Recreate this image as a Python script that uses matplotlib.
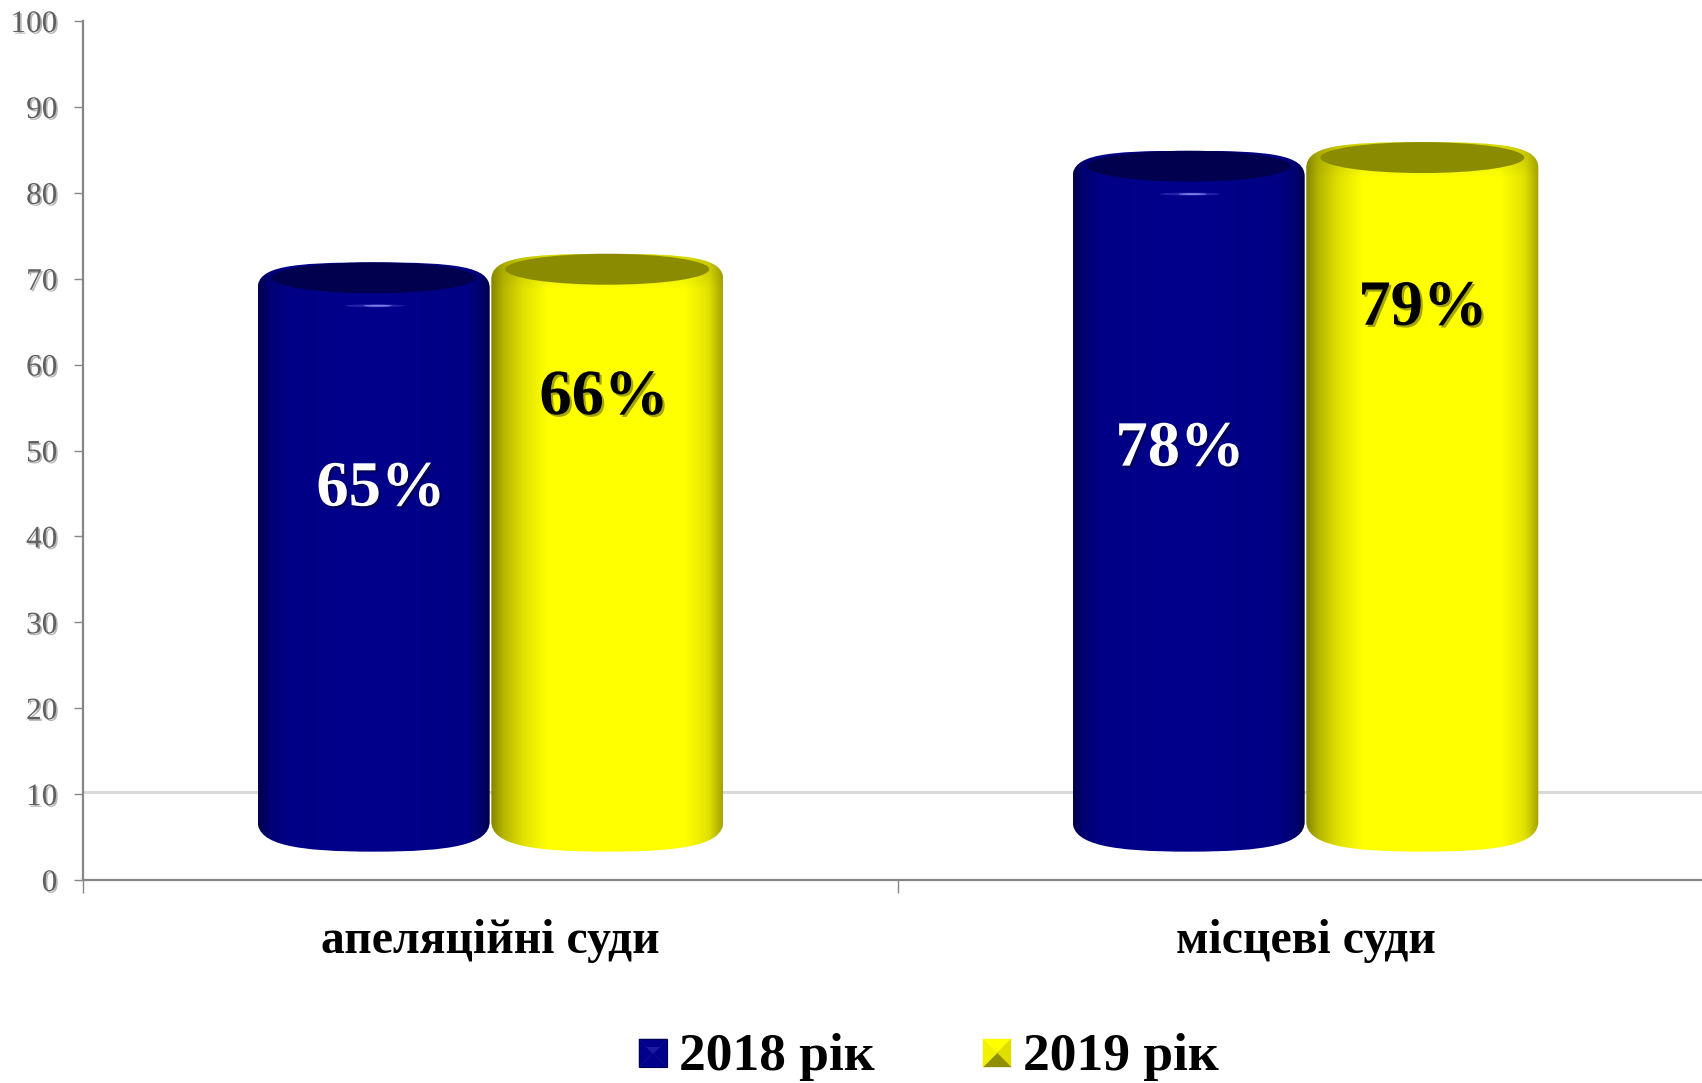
import numpy as np
import matplotlib
matplotlib.use('Agg')
from matplotlib import pyplot as plt
from matplotlib.colors import LinearSegmentedColormap
from matplotlib.path import Path
from matplotlib.patches import PathPatch, Ellipse, Rectangle, Polygon
import matplotlib.patheffects as pe

categorias = ['апеляційні суди', 'місцеві суди']
anos = ['2018 рік', '2019 рік']
valores_2018 = [65, 78]
valores_2019 = [66, 79]
yticks = list(range(0, 101, 10))

plt.rcParams['font.family'] = ['Liberation Serif', 'DejaVu Serif']

W, H = 1702, 1083
fig = plt.figure(figsize=(W / 100, H / 100), dpi=100)
ax = fig.add_axes([83 / W, (H - 880) / H, (W - 83) / W, 859 / H])
ax.set_xlim(0, (W - 83) / 815)
ax.set_ylim(0, 100)

cmap_azul = LinearSegmentedColormap.from_list('azul', [
    (0, '#00004c'), (0.04, '#000070'), (0.12, '#000086'), (0.5, '#00008c'),
    (0.9, '#000084'), (0.97, '#000068'), (1, '#00003c')])
cmap_amarelo = LinearSegmentedColormap.from_list('amarelo', [
    (0, '#858500'), (0.05, '#b4b400'), (0.14, '#e2e200'), (0.24, '#ffff00'),
    (0.84, '#ffff00'), (0.94, '#e2e200'), (1, '#a4a400')])
cmap_ombro = LinearSegmentedColormap.from_list('ombro', [(0.55, 0.55, 0, 0), (0.55, 0.55, 0, 0.38)])

largura = 232 / 815
gradiente = np.linspace(0, 1, 256).reshape(1, -1)
gradiente_v = np.linspace(1, 0, 64).reshape(-1, 1)


def cilindro(xc, valor, cmap, cor_topo, brilho):
    x0, x1 = xc - largura / 2, xc + largura / 2
    topo = valor + 3.9
    cupula = topo + 3.0
    base = 6.8
    fundo = 3.3
    k = largura * 0.36
    k2 = largura * 0.33
    verts = [
        (x0, base), (x0, topo),
        (x0, topo + 2.5), (xc - k, cupula), (xc, cupula),
        (xc + k, cupula), (x1, topo + 2.5), (x1, topo),
        (x1, base),
        (x1, base - 2.7), (xc + k2, fundo), (xc, fundo),
        (xc - k2, fundo), (x0, base - 2.7), (x0, base),
        (x0, base),
    ]
    codes = [Path.MOVETO, Path.LINETO, Path.CURVE4, Path.CURVE4, Path.CURVE4,
             Path.CURVE4, Path.CURVE4, Path.CURVE4, Path.LINETO,
             Path.CURVE4, Path.CURVE4, Path.CURVE4,
             Path.CURVE4, Path.CURVE4, Path.CURVE4, Path.CLOSEPOLY]
    contorno = PathPatch(Path(verts, codes), transform=ax.transData,
                         facecolor='none', edgecolor='none')
    ax.add_patch(contorno)
    img = ax.imshow(gradiente, cmap=cmap, extent=[x0, x1, fundo, cupula],
                    aspect='auto', zorder=3, vmin=0, vmax=1)
    img.set_clip_path(contorno)
    if not brilho:
        # faixa mais escura no ombro do cilindro amarelo
        img2 = ax.imshow(gradiente_v, cmap=cmap_ombro, extent=[x0, x1, topo - 1.2, cupula],
                         aspect='auto', zorder=3.5, vmin=0, vmax=1)
        img2.set_clip_path(contorno)
    ax.add_patch(Ellipse((xc, valor + 5.1), 2 * 102 / 815, 3.6,
                         facecolor=cor_topo, edgecolor='none', zorder=4))
    if brilho:
        ax.add_patch(Ellipse((xc + 1 / 815, valor + 1.85), 60 / 815, 0.34,
                             facecolor='#2323a8', edgecolor='none', zorder=4))
        ax.add_patch(Ellipse((xc + 4 / 815, valor + 1.85), 28 / 815, 0.22,
                             facecolor='#7d7de8', edgecolor='none', zorder=4))


for i in range(len(categorias)):
    cilindro(i + 0.5 - largura / 2 - 0.001, valores_2018[i], cmap_azul, '#00004e', True)
    cilindro(i + 0.5 + largura / 2 + 0.001, valores_2019[i], cmap_amarelo, '#8b8b00', False)

ax.set_xlim(0, (W - 83) / 815)
ax.set_ylim(0, 100)

# so aparece a linha do 10 na figura original
ax.axhline(10.2, color='#d9d9d9', lw=2.2, zorder=1)

for lado in ['top', 'right']:
    ax.spines[lado].set_visible(False)
ax.spines['left'].set_color('#868686')
ax.spines['left'].set_linewidth(1.6)
ax.spines['bottom'].set_color('#868686')
ax.spines['bottom'].set_linewidth(1.6)

sombra_tick = [pe.withSimplePatchShadow(offset=(1.2, -1.2), shadow_rgbFace='#888888', alpha=0.6)]
ax.set_yticks(yticks)
ax.tick_params(axis='y', length=6.5, width=1, color='#868686', pad=12)
for t in ax.get_yticklabels():
    t.set_fontsize(22.5)
    t.set_color('#606060')
    t.set_path_effects(sombra_tick)

ax.set_xticks([0, 1])
ax.set_xticklabels([])
ax.tick_params(axis='x', length=9.5, width=1, color='#868686')
ax.set_xticks([0.5, 1.5], minor=True)
ax.set_xticklabels(categorias, minor=True, fontsize=34.4, fontweight='bold', color='black')
ax.tick_params(axis='x', which='minor', length=0, pad=28)

rotulos = ['65%', '66%', '78%', '79%']
rotulo_x = [381, 604, 1180, 1423]
rotulo_y = [45.45, 56.1, 50.1, 66.5]
rotulo_cor = ['white', 'black', 'white', 'black']
for txt, x, y, cor in zip(rotulos, rotulo_x, rotulo_y, rotulo_cor):
    t = ax.text((x - 83) / 815, y, txt, ha='center', va='center', fontsize=46.5,
                fontweight='bold', color=cor, zorder=6)
    t.set_path_effects([pe.withSimplePatchShadow(offset=(1.6, -1.6), shadow_rgbFace='#000000', alpha=0.35)])


def fx(p):
    return p / W


def fy(p):
    return (H - p) / H


def quadrado(x, y, lado, cores):
    c = (x + lado / 2, y + lado / 2)
    cantos = [(x, y), (x + lado, y), (x + lado, y + lado), (x, y + lado)]
    for j in range(4):
        a, b = cantos[j], cantos[(j + 1) % 4]
        pts = [(fx(a[0]), fy(a[1])), (fx(b[0]), fy(b[1])), (fx(c[0]), fy(c[1]))]
        fig.add_artist(Polygon(pts, closed=True, transform=fig.transFigure,
                               facecolor=cores[j], edgecolor=cores[j], lw=0.3))


quadrado(639, 1039, 28, ['#00008c', '#00008c', '#00008c', '#00008c'])
fig.add_artist(Polygon([(fx(646), fy(1047)), (fx(660), fy(1047)), (fx(653), fy(1054))],
                       closed=True, transform=fig.transFigure, facecolor='#1c1ca0', edgecolor='none'))
fig.add_artist(Rectangle((fx(639), fy(1067)), 28 / W, 28 / H, transform=fig.transFigure,
                         facecolor='none', edgecolor='#000050', lw=0.8))
quadrado(983, 1039, 28, ['#ffff00', '#dede00', '#8f8f00', '#f2f200'])

fig.text(fx(679), fy(1057), anos[0], ha='left', va='center', fontsize=38.5, fontweight='bold', color='black')
fig.text(fx(1023), fy(1057), anos[1], ha='left', va='center', fontsize=38.5, fontweight='bold', color='black')

fig.savefig('out.png', dpi=100)
